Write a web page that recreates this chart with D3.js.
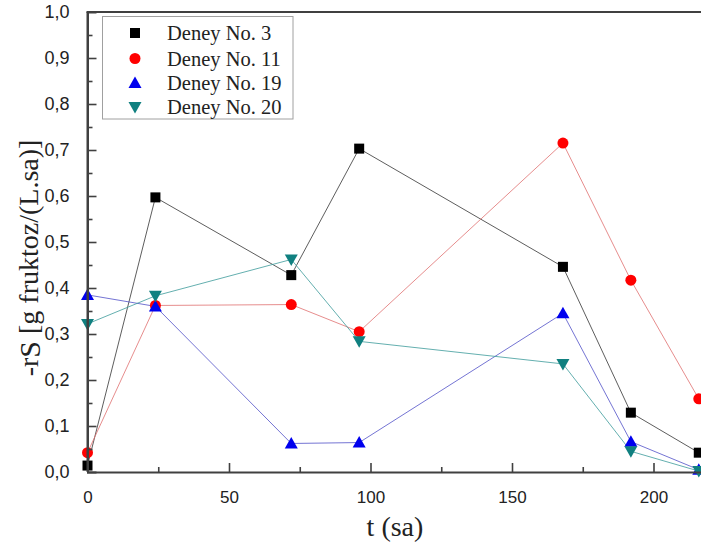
<!DOCTYPE html>
<html>
<head>
<meta charset="utf-8">
<script src="https://cdn.jsdelivr.net/npm/d3@7"></script>
<style>
  html, body { margin: 0; padding: 0; background: #fff; overflow: hidden; }
  svg { display: block; }
</style>
</head>
<body>
<svg id="chart" width="701" height="548"></svg>
<script>
// Sampling times (sa)
const times = [0, 24, 72, 96, 168, 192, 216];

// Fructose consumption rate -rS for each experiment
const deney3  = [0.014, 0.597, 0.428, 0.703, 0.446, 0.129, 0.042];
const deney11 = [0.042, 0.362, 0.364, 0.305, 0.715, 0.417, 0.159];
const deney19 = [0.385, 0.360, 0.062, 0.064, 0.345, 0.066, 0.005];
const deney20 = [0.322, 0.383, 0.462, 0.284, 0.235, 0.045, 0.002];

const seriesNames = ["Deney No. 3", "Deney No. 11", "Deney No. 19", "Deney No. 20"];
const seriesValues = [deney3, deney11, deney19, deney20];

const xMajorTicks = [0, 50, 100, 150, 200];
const xMinorTicks = [25, 75, 125, 175, 225];
const yMajorTicks = [0, 0.1, 0.2, 0.3, 0.4, 0.5, 0.6, 0.7, 0.8, 0.9, 1.0];
const yMinorTicks = [0.05, 0.15, 0.25, 0.35, 0.45, 0.55, 0.65, 0.75, 0.85, 0.95];

const styles = [
  { color: "#000000", line: "#333333", shape: "square" },
  { color: "#ff0000", line: "#e07070", shape: "circle" },
  { color: "#0000ee", line: "#5050c8", shape: "up" },
  { color: "#108080", line: "#3c9a9a", shape: "down" }
];

const svg = d3.select("#chart");
const plotLeft = 87.5, plotTop = 12, plotBottom = 472;
const x = d3.scaleLinear().domain([0, 240]).range([plotLeft, plotLeft + 240 * 2.83]);
const y = d3.scaleLinear().domain([0, 1]).range([plotBottom, plotTop]);

const axisColor = "#404040";
const textColor = "#222";

// Connecting lines
const line = d3.line().x(d => x(d[0])).y(d => y(d[1]));
seriesValues.forEach((vals, i) => {
  svg.append("path")
    .datum(times.map((t, k) => [t, vals[k]]))
    .attr("d", line)
    .attr("fill", "none")
    .attr("stroke", styles[i].line)
    .attr("stroke-width", 0.8);
});

// Markers
function marker(g, shape, color, cx, cy) {
  if (shape === "square") {
    g.append("rect").attr("x", cx - 5).attr("y", cy - 5).attr("width", 10).attr("height", 10).attr("fill", color);
  } else if (shape === "circle") {
    g.append("circle").attr("cx", cx).attr("cy", cy).attr("r", 5.5).attr("fill", color);
  } else if (shape === "up") {
    g.append("path").attr("d", `M${cx},${cy - 6.5}L${cx + 6.5},${cy + 5}L${cx - 6.5},${cy + 5}Z`).attr("fill", color);
  } else {
    g.append("path").attr("d", `M${cx},${cy + 6.5}L${cx + 6.5},${cy - 5}L${cx - 6.5},${cy - 5}Z`).attr("fill", color);
  }
}
seriesValues.forEach((vals, i) => {
  const g = svg.append("g");
  times.forEach((t, k) => marker(g, styles[i].shape, styles[i].color, x(t), y(vals[k])));
});

// Axes (ticks point inward)
const xAxis = svg.append("g").attr("transform", `translate(0,${plotBottom})`)
  .call(d3.axisBottom(x).tickValues(xMajorTicks).tickSize(-9).tickPadding(19).tickFormat(d3.format("d")));
xAxis.selectAll(".tick").filter(d => d === 0).select("line").remove();
svg.append("g").attr("transform", `translate(0,${plotBottom})`)
  .call(d3.axisBottom(x).tickValues(xMinorTicks).tickSize(-5).tickFormat(""))
  .call(g => g.select(".domain").remove());

const commaFmt = d => d3.format(".1f")(d).replace(".", ",");
const yAxis = svg.append("g").attr("transform", `translate(${plotLeft},0)`)
  .call(d3.axisLeft(y).tickValues(yMajorTicks).tickSize(-9).tickPadding(18).tickFormat(commaFmt));
yAxis.selectAll(".tick").filter(d => d === 0 || d === 1).select("line").remove();
svg.append("g").attr("transform", `translate(${plotLeft},0)`)
  .call(d3.axisLeft(y).tickValues(yMinorTicks).tickSize(-5).tickFormat(""))
  .call(g => g.select(".domain").remove());

[xAxis, yAxis].forEach(a => {
  a.select(".domain").attr("stroke", axisColor).attr("stroke-width", 2);
});
svg.selectAll(".tick line").attr("stroke", axisColor).attr("stroke-width", 1.6);
xAxis.selectAll("text").attr("font-family", "Liberation Sans, Arial, sans-serif").attr("font-size", 17).attr("fill", textColor);
yAxis.selectAll("text").attr("font-family", "Liberation Sans, Arial, sans-serif").attr("font-size", 18).attr("fill", textColor);

// Frame lines
svg.append("line").attr("x1", plotLeft - 1).attr("x2", 701).attr("y1", plotTop).attr("y2", plotTop)
  .attr("stroke", axisColor).attr("stroke-width", 2);
svg.append("line").attr("x1", plotLeft).attr("x2", plotLeft).attr("y1", plotTop).attr("y2", plotBottom)
  .attr("stroke", axisColor).attr("stroke-width", 2);

// Axis titles
svg.append("text")
  .attr("x", 395).attr("y", 536)
  .attr("text-anchor", "middle")
  .attr("font-family", "Liberation Serif, Times New Roman, serif")
  .attr("font-size", 28).attr("fill", textColor)
  .text("t (sa)");

const yt = svg.append("text")
  .attr("transform", "translate(38,258) rotate(-90)")
  .attr("text-anchor", "middle")
  .attr("font-family", "Liberation Serif, Times New Roman, serif")
  .attr("font-size", 28).attr("fill", textColor);
yt.append("tspan").text("-r");
yt.append("tspan").attr("font-size", 30).attr("dy", 2).text("S");
yt.append("tspan").attr("dy", -2).text(" [g fruktoz/(L.sa)]");

// Legend
const lg = svg.append("g");
lg.append("rect").attr("x", 102.5).attr("y", 16.5).attr("width", 190.5).attr("height", 102.5)
  .attr("fill", "#fff").attr("stroke", "#a0a0a0").attr("stroke-width", 1);
const rowY = [33, 58.5, 83, 107];
seriesNames.forEach((name, i) => {
  marker(lg, styles[i].shape, styles[i].color, 135, rowY[i]);
  lg.append("text").attr("x", 167).attr("y", rowY[i] + 7)
    .attr("font-family", "Liberation Serif, Times New Roman, serif")
    .attr("font-size", 20.5).attr("fill", textColor)
    .text(name);
});
</script>
</body>
</html>
